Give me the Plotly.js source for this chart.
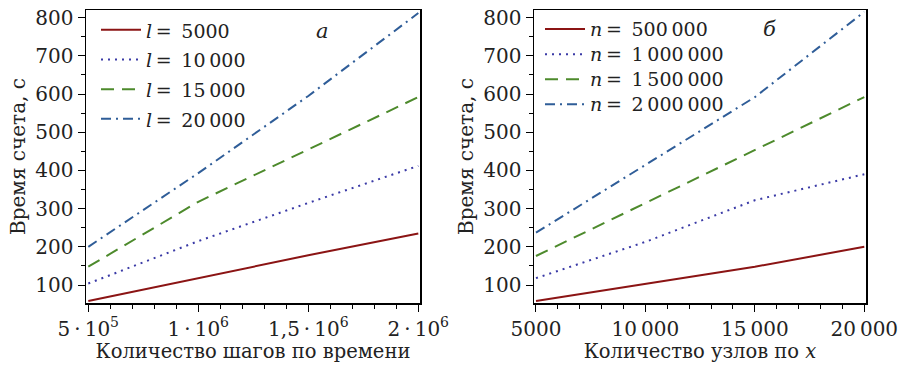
<!DOCTYPE html>
<html>
<head>
<meta charset="utf-8">
<script src="https://cdn.plot.ly/plotly-3.0.1.min.js"></script>
<style>body{margin:0;background:#fff}#chart{width:899px;height:368px}</style>
</head>
<body>
<div id="chart"></div>
<script>
// ---- data ----
const stepsX = [500000, 1000000, 1500000, 2000000];
const stepsTickLabels = ["5\u2009·\u200910<sup>5</sup>", "1\u2009·\u200910<sup>6</sup>", "1,5\u2009·\u200910<sup>6</sup>", "2\u2009·\u200910<sup>6</sup>"];
const timeL5000  = [58, 118, 178, 235];
const timeL10000 = [104, 215, 315, 412];
const timeL15000 = [148, 318, 455, 592];
const timeL20000 = [200, 393, 595, 812];

const nodesX = [5000, 10000, 15000, 20000];
const nodesTickLabels = ["5000", "10\u2009000", "15\u2009000", "20\u2009000"];
const timeN500k = [58, 103, 148, 200];
const timeN1M   = [118, 213, 322, 390];
const timeN15M  = [176, 315, 453, 592];
const timeN2M   = [237, 415, 592, 815];

const yTicks = [100, 200, 300, 400, 500, 600, 700, 800];

const legendL = ["<i>l</i>\u2009=\u20025000", "<i>l</i>\u2009=\u200210\u2009000", "<i>l</i>\u2009=\u200215\u2009000", "<i>l</i>\u2009=\u200220\u2009000"];
const legendN = ["<i>n</i>\u2009=\u2002500\u2009000", "<i>n</i>\u2009=\u20021\u2009000\u2009000", "<i>n</i>\u2009=\u20021\u2009500\u2009000", "<i>n</i>\u2009=\u20022\u2009000\u2009000"];

const colors = ["#8b1414", "#3a3aa6", "#4d8a2c", "#2f5d98"];
const dashes = ["solid", "2px,5px", "13px,8px", "10px,5px,2px,5px"];

const FONT = "DejaVu Serif";
const big = s => '<span style="font-size:19px">' + s + '</span>';

const traces = [];
[timeL5000, timeL10000, timeL15000, timeL20000].forEach((y, i) => {
  traces.push({x: stepsX, y: y, type: "scatter", mode: "lines", name: big(legendL[i]),
    xaxis: "x", yaxis: "y", legend: "legend",
    line: {color: colors[i], width: 2, dash: dashes[i]}});
});
[timeN500k, timeN1M, timeN15M, timeN2M].forEach((y, i) => {
  traces.push({x: nodesX, y: y, type: "scatter", mode: "lines", name: big(legendN[i]),
    xaxis: "x2", yaxis: "y2", legend: "legend2",
    line: {color: colors[i], width: 2, dash: dashes[i]}});
});

const W = 899, H = 368;
const yDom = [(H - 303) / H, (H - 10) / H];

function xAxis(dom, range, vals, text, title) {
  return {
    domain: dom, range: range, tickmode: "array", tickvals: vals, ticktext: text,
    showline: true, mirror: true, linecolor: "#000", linewidth: 1.5,
    ticks: "outside", ticklen: 7, tickwidth: 1, tickcolor: "#000",
    showgrid: false, zeroline: false,
    tickfont: {family: FONT, size: 20, color: "#222"},
    title: {text: title, font: {family: FONT, size: 19.5, color: "#222"}, standoff: 3},
    minor: {dtick: (vals[1] - vals[0]) / 5, ticks: "outside", ticklen: 4, tickcolor: "#000", showgrid: false},
    fixedrange: true
  };
}
function yAxis(dom, anchor) {
  return {
    domain: dom, range: [53, 820], anchor: anchor, tickmode: "array", tickvals: yTicks,
    showline: true, mirror: true, linecolor: "#000", linewidth: 1.5,
    ticks: "outside", ticklen: 7, tickwidth: 1, tickcolor: "#000",
    showgrid: false, zeroline: false,
    tickfont: {family: FONT, size: 20, color: "#222"},
    title: {text: "Время счета, с", font: {family: FONT, size: 20, color: "#222"}, standoff: 4},
    minor: {dtick: 50, ticks: "outside", ticklen: 4, tickcolor: "#000", showgrid: false},
    fixedrange: true
  };
}

const layout = {
  width: W, height: H,
  margin: {l: 0, r: 0, t: 0, b: 0},
  paper_bgcolor: "#fff", plot_bgcolor: "#fff",
  font: {family: FONT, color: "#222"},
  xaxis: xAxis([86 / W, 420 / W], [489500, 2007700], stepsX, stepsTickLabels, "Количество шагов по времени"),
  yaxis: yAxis(yDom, "x"),
  xaxis2: Object.assign(xAxis([534 / W, 866 / W], [4909, 20078], nodesX, nodesTickLabels, "Количество узлов по <i>x</i>"), {anchor: "y2"}),
  yaxis2: yAxis(yDom, "x2"),
  legend: {x: 96 / W, y: (H - 10) / H, xanchor: "left", yanchor: "top",
    bgcolor: "rgba(0,0,0,0)", font: {family: FONT, size: 20.5, color: "#222"},
    itemwidth: 40, tracegroupgap: 0},
  legend2: {x: 540 / W, y: (H - 11.5) / H, xanchor: "left", yanchor: "top",
    bgcolor: "rgba(0,0,0,0)", font: {family: FONT, size: 17, color: "#222"},
    itemwidth: 40, tracegroupgap: 0},
  annotations: [
    {xref: "paper", yref: "paper", x: 322 / W, y: (H - 31) / H, yanchor: "middle", text: "<i>а</i>", showarrow: false,
      font: {family: FONT, size: 21, color: "#222"}},
    {xref: "paper", yref: "paper", x: 778 / W, y: (H - 29) / H, yanchor: "middle", text: "<i>б</i>", showarrow: false,
      font: {family: FONT, size: 21, color: "#222"}}
  ],
  showlegend: true
};

Plotly.newPlot("chart", traces, layout, {displayModeBar: false, staticPlot: true});
</script>
</body>
</html>
